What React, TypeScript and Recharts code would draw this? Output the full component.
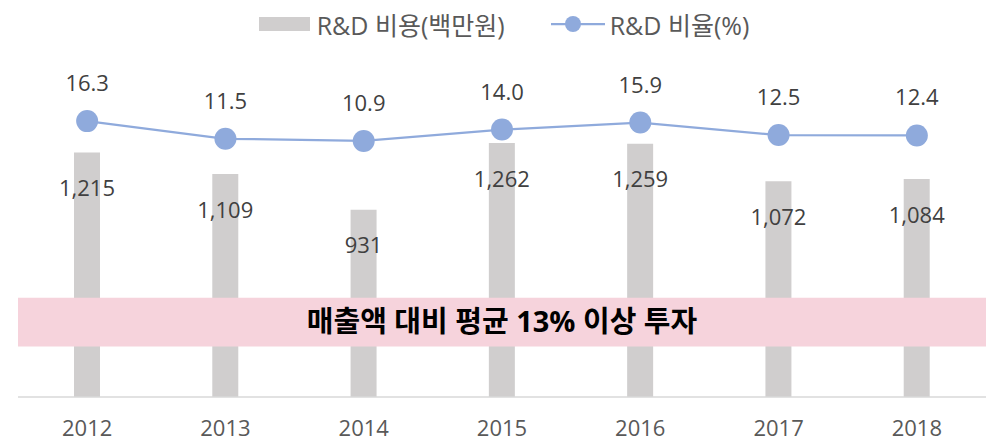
import React from 'react';
import {
  Bar,
  ComposedChart,
  LabelList,
  Line,
  ReferenceArea,
  XAxis,
  YAxis,
} from 'recharts';

const years = ['2012', '2013', '2014', '2015', '2016', '2017', '2018'];
const rdCost = [1215, 1109, 931, 1262, 1259, 1072, 1084];
const rdRatio = [16.3, 11.5, 10.9, 14.0, 15.9, 12.5, 12.4];
const costName = 'R&D 비용(백만원)';
const ratioName = 'R&D 비율(%)';
const bandText = '매출액 대비 평균 13% 이상 투자';

const data = years.map((year, i) => ({ year, cost: rdCost[i], ratio: rdRatio[i] }));

const FONT = '"Open Sans", "Noto Sans CJK KR", sans-serif';
const BAR_COLOR = '#D0CECE';
const LINE_COLOR = '#8FAADC';

const LegendBox = () => (
  <div
    style={{
      position: 'absolute',
      top: 6,
      left: 0,
      width: 988,
      display: 'flex',
      justifyContent: 'center',
      alignItems: 'center',
      fontSize: 25,
      color: '#595959',
      fontFamily: FONT,
      paddingLeft: 20,
      boxSizing: 'border-box',
    }}
  >
    <span style={{ display: 'inline-block', width: 51, height: 14, background: BAR_COLOR, marginRight: 7 }} />
    <span style={{ marginRight: 46 }}>{costName}</span>
    <svg width={54} height={20} style={{ marginRight: 5 }}>
      <line x1={0} y1={10} x2={54} y2={10} stroke={LINE_COLOR} strokeWidth={2.25} />
      <circle cx={22} cy={10} r={8} fill={LINE_COLOR} />
    </svg>
    <span>{ratioName}</span>
  </div>
);

const App = () => {
  return (
    <div style={{ position: 'absolute', left: 0, top: 0, width: 988, height: 444, fontFamily: FONT, background: '#fff' }}>
      <ComposedChart
        width={988}
        height={444}
        data={data}
        margin={{ top: 55, right: 2, left: 18, bottom: 0 }}
      >
        <XAxis
          dataKey="year"
          height={47}
          tickLine={false}
          axisLine={{ stroke: '#D9D9D9', strokeWidth: 1.5 }}
          tick={{ fill: '#595959', fontSize: 22, fontFamily: FONT }}
          tickMargin={17}
        />
        <YAxis yAxisId="left" hide domain={[0, 1700]} allowDataOverflow />
        <YAxis yAxisId="right" hide domain={[-58.8, 34.3]} allowDataOverflow />
        <Bar yAxisId="left" dataKey="cost" name={costName} fill={BAR_COLOR} barSize={26} isAnimationActive={false}>
          <LabelList
            dataKey="cost"
            position="insideTop"
            offset={28}
            fill="#404040"
            fontSize={22}
            fontFamily={FONT}
            formatter={(v: number) => v.toLocaleString('en-US')}
          />
        </Bar>
        <ReferenceArea
          yAxisId="left"
          y1={251}
          y2={493}
          fill="#F6D3DC"
          fillOpacity={1}
          stroke="none"
          zIndex={350}
          label={{
            value: bandText,
            position: 'center',
            fill: '#000',
            fontSize: 29,
            fontWeight: 'bold',
            fontFamily: FONT,
          }}
        />
        <Line
          yAxisId="right"
          type="linear"
          dataKey="ratio"
          name={ratioName}
          stroke={LINE_COLOR}
          strokeWidth={2.25}
          dot={{ r: 11, fill: LINE_COLOR, stroke: LINE_COLOR, strokeWidth: 0 }}
          isAnimationActive={false}
        >
          <LabelList
            dataKey="ratio"
            position="top"
            offset={30}
            fill="#404040"
            fontSize={22}
            fontFamily={FONT}
            formatter={(v: number) => v.toFixed(1)}
          />
        </Line>
      </ComposedChart>
      <LegendBox />
    </div>
  );
};

export default App;
